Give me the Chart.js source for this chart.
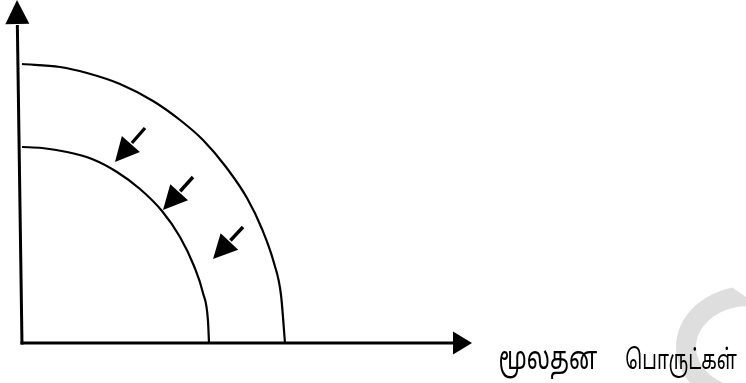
<!DOCTYPE html>
<html>
<head>
<meta charset="utf-8">
<script src="https://cdn.jsdelivr.net/npm/chart.js@4.4.1/dist/chart.umd.min.js"></script>
<style>
  html, body { margin: 0; padding: 0; background: #fff; }
  #wrap { width: 746px; height: 383px; position: relative; }
</style>
</head>
<body>
<div id="wrap"><canvas id="ppf"></canvas></div>
<script>
// frontier before the shift (outer curve)
const outerX = [0, 38, 65, 98, 131, 158, 181, 204, 225, 240, 252, 259, 263];
const outerY = [279, 276, 270, 259, 242, 223, 203, 176, 145, 114, 80, 48, 0];
// frontier after the shift (inner curve)
const innerX = [0, 20, 45, 70, 95, 118, 140, 158, 172, 181, 186, 187];
const innerY = [196, 195, 191, 184, 171, 154, 132, 106, 77, 50, 22, 0];
// shift arrows: tail -> tip
const arrowTailX = [123, 171, 221];
const arrowTailY = [215, 166, 116];
const arrowTipX = [93, 141, 191];
const arrowTipY = [181, 133, 84];
// axis ends (y axis leans a little in the original)
const yAxisX = [0, -5];
const yAxisY = [0, 343];
const xAxisX = [0, 450];
const xAxisY = [0, 0];
const xLabelWords = ['மூலதன', 'பொருட்கள்'];

const toPoints = (xs, ys) => xs.map((x, i) => ({ x: x, y: ys[i] }));

function arrowHead(ctx, x0, y0, x1, y1, len, half) {
    const a = Math.atan2(y1 - y0, x1 - x0);
    const bx = x1 - Math.cos(a) * len, by = y1 - Math.sin(a) * len;
    ctx.beginPath();
    ctx.moveTo(x1, y1);
    ctx.lineTo(bx + Math.sin(a) * half, by - Math.cos(a) * half);
    ctx.lineTo(bx - Math.sin(a) * half, by + Math.cos(a) * half);
    ctx.closePath();
    ctx.fill();
    return { x: bx, y: by };
}

const FONT = '"Noto Sans Tamil", "Lohit Tamil", "Noto Sans", sans-serif';

// draw a word so its ink fills [x0, x1] and rises `asc` px above the baseline
function fitText(ctx, txt, x0, x1, y, asc) {
    ctx.font = '100px ' + FONT;
    let m = ctx.measureText(txt);
    const size = 100 * asc / m.actualBoundingBoxAscent;
    ctx.font = size.toFixed(1) + 'px ' + FONT;
    m = ctx.measureText(txt);
    const ink = m.actualBoundingBoxLeft + m.actualBoundingBoxRight;
    const k = (x1 - x0) / ink;
    ctx.save();
    ctx.translate(x0 + m.actualBoundingBoxLeft * k, y);
    ctx.scale(k, 1);
    ctx.fillText(txt, 0, 0);
    ctx.restore();
}

const diagramPlugin = {
    id: 'diagram',
    beforeDatasetsDraw(chart) {
        const ctx = chart.ctx;
        // faint watermark at the right edge
        ctx.save();
        ctx.fillStyle = '#dedede';
        ctx.beginPath();
        ctx.ellipse(749, 347, 73, 61, 0, -1.8, 1.6, true);
        ctx.ellipse(749, 347, 53, 41, 0, 1.6, -1.35, false);
        ctx.closePath();
        ctx.fill();
        ctx.restore();
    },
    afterDatasetsDraw(chart) {
        const ctx = chart.ctx;
        const sx = chart.scales.x, sy = chart.scales.y;
        const px = v => sx.getPixelForValue(v), py = v => sy.getPixelForValue(v);
        ctx.save();
        ctx.fillStyle = '#000';
        ctx.strokeStyle = '#000';
        ctx.lineCap = 'butt';

        // axes
        ctx.lineWidth = 3;
        let b = arrowHead(ctx, px(yAxisX[0]), py(yAxisY[0]), px(yAxisX[1]), py(yAxisY[1]), 24, 12);
        ctx.beginPath();
        ctx.moveTo(px(yAxisX[0]), py(yAxisY[0]) + 1.5);
        ctx.lineTo(b.x, b.y + 1);
        ctx.stroke();
        b = arrowHead(ctx, px(xAxisX[0]), py(xAxisY[0]), px(xAxisX[1]), py(xAxisY[1]), 19, 11.5);
        ctx.beginPath();
        ctx.moveTo(px(xAxisX[0]) - 1.5, py(xAxisY[0]));
        ctx.lineTo(b.x + 1, b.y);
        ctx.stroke();

        // shift arrows
        for (let i = 0; i < arrowTipX.length; i++) {
            const x0 = px(arrowTailX[i]), y0 = py(arrowTailY[i]);
            const x1 = px(arrowTipX[i]), y1 = py(arrowTipY[i]);
            const base = arrowHead(ctx, x0, y0, x1, y1, 24, 12);
            ctx.lineWidth = 3.4;
            ctx.beginPath();
            ctx.moveTo(x0, y0);
            ctx.lineTo(base.x + 1, base.y - 1);
            ctx.stroke();
        }

        // x axis title
        ctx.textBaseline = 'alphabetic';
        ctx.textAlign = 'left';
        fitText(ctx, xLabelWords[0], 500, 597, 369, 20);
        fitText(ctx, xLabelWords[1], 626, 737, 369, 23);
        ctx.restore();
    }
};

const curveStyle = {
    showLine: true,
    borderColor: '#000',
    borderWidth: 2.2,
    pointRadius: 0,
    cubicInterpolationMode: 'monotone',
    fill: false
};

new Chart(document.getElementById('ppf'), {
    type: 'scatter',
    data: {
        datasets: [
            Object.assign({ label: 'outer', data: toPoints(outerX, outerY) }, curveStyle),
            Object.assign({ label: 'inner', data: toPoints(innerX, innerY) }, curveStyle)
        ]
    },
    options: {
        responsive: true,
        maintainAspectRatio: false,
        animation: false,
        layout: { padding: 0 },
        scales: {
            x: { type: 'linear', min: -22, max: 724, display: false },
            y: { type: 'linear', min: -40, max: 343, display: false }
        },
        plugins: {
            legend: { display: false },
            tooltip: { enabled: false }
        }
    },
    plugins: [diagramPlugin]
});
</script>
</body>
</html>
